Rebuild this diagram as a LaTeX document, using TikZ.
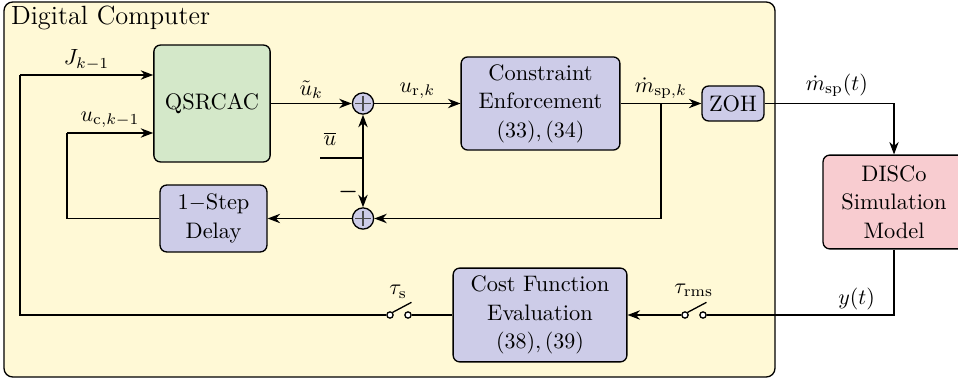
\documentclass[tikz,border=0pt]{standalone}
\usepackage{amsmath,amssymb,amsfonts}
\usepackage{xcolor}
\usepackage{tikz}
\usetikzlibrary{arrows.meta,positioning,calc}

\definecolor{compbg}{RGB}{255,249,214}
\definecolor{ctrlgreen}{RGB}{212,232,201}
\definecolor{blockpurple}{RGB}{205,204,232}
\definecolor{plantpink}{RGB}{248,204,208}

\begin{document}
\begin{tikzpicture}[
  >=Stealth,
  block/.style={
    draw,
    rounded corners=3pt,
    align=center,
    inner sep=2pt,
    line width=0.6pt,
    font=\fontsize{10.2}{13}\selectfont,
    fill=blockpurple
  },
  ctrl/.style={block, fill=ctrlgreen},
  plant/.style={block, fill=plantpink},
  sumnode/.style={
    circle, draw, fill=blockpurple, line width=0.6pt,
    minimum size=0.34cm, inner sep=0pt,
    path picture={
      \draw[gray!60!black, shorten <=1.3pt, shorten >=1.3pt]
        (path picture bounding box.north) -- (path picture bounding box.south);
      \draw[gray!60!black, shorten <=1.3pt, shorten >=1.3pt]
        (path picture bounding box.west) -- (path picture bounding box.east);
    }
  },
  swpin/.style={circle, draw, fill=white, minimum size=0.1cm, inner sep=0pt, semithick},
  arrow/.style={->, semithick},
  wire/.style={semithick},
  sig/.style={inner sep=2pt}
]
  \useasboundingbox (0,0) rectangle (15.328,-6.112);

  % digital computer frame
  \draw[fill=compbg, rounded corners=4pt, line width=0.6pt]
    (0.064,-0.032) rectangle (12.4,-6.032);
  \node[anchor=west, inner sep=0pt, font=\large] (title) at (0.17,-0.29) {Digital Computer};

  % blocks
  \node[ctrl, minimum width=1.86cm, minimum height=1.87cm] (qsr) at (3.392,-1.656) {QSRCAC};
  \node[sumnode] (sum1) at (5.808,-1.656) {};
  \node[block, minimum width=2.54cm, minimum height=1.49cm] (cons) at (8.648,-1.656) {%
    Constraint\\Enforcement\\$(33),(34)$};
  \node[block, minimum width=0.99cm, minimum height=0.56cm] (zoh) at (11.728,-1.656) {ZOH};
  \node[plant, minimum width=2.27cm, minimum height=1.5cm] (disco) at (14.304,-3.232) {%
    DISCo\\Simulation\\Model};
  \node[block, minimum width=1.71cm, minimum height=1.07cm] (delay) at (3.416,-3.496) {%
    1$-$Step\\Delay};
  \node[sumnode] (sum2) at (5.808,-3.496) {};
  \node[block, minimum width=2.78cm, minimum height=1.5cm] (cost) at (8.64,-5.04) {%
    Cost Function\\Evaluation\\$(38),(39)$};

  % sampling switches
  \node[swpin] (tsa) at (6.24,-5.04) {};
  \node[swpin] (tsb) at (6.528,-5.04) {};
  \draw[wire] (tsa.north east) -- ++(28:0.34) coordinate (tsend);
  \node[sig] (tslbl) at (6.37,-4.67) {$\tau_{\mathrm{s}}$};
  \node[swpin] (tra) at (10.96,-5.04) {};
  \node[swpin] (trb) at (11.248,-5.04) {};
  \draw[wire] (tra.north east) -- ++(28:0.34) coordinate (trend);
  \node[sig] (trlbl) at (11.1,-4.64) {$\tau_{\mathrm{rms}}$};

  % corner points
  \coordinate (jc) at (0.32,-1.2);
  \coordinate (uc) at (1.072,-2.128);
  \coordinate (br) at (10.576,-1.656);
  \coordinate (ubar) at (5.12,-2.528);
  \coordinate (uj) at (5.808,-2.528);

  % forward path
  \draw[arrow] (qsr.east) -- node[sig, above] {$\tilde{u}_k$} (sum1.west);
  \draw[arrow] (sum1.east) -- node[sig, above] {$u_{\mathrm{r},k}$} (cons.west);
  \draw[arrow] (cons.east) -- node[sig, above] {$\dot{m}_{\mathrm{sp},k}$} (zoh.west);
  \draw[arrow] (zoh.east) -| (disco.north);
  \node[sig] (mdot) at (13.39,-1.36) {$\dot{m}_{\mathrm{sp}}(t)$};

  % offset input
  \draw[thick] (ubar) -- (uj);
  \node[sig] (ubarlbl) at (5.28,-2.22) {$\overline{u}$};
  \draw[arrow] (uj) -- (sum1.south);
  \draw[arrow] (uj) -- (sum2.north);
  \node[sig] (minus) at (5.57,-3.07) {$\boldsymbol{-}$};

  % delay loop
  \draw[arrow] (br) |- (sum2.east);
  \draw[arrow] (sum2.west) -- (delay.east);
  \draw[wire] (delay.west) -| (uc);
  \draw[arrow] (uc) -- node[sig, above] {$u_{\mathrm{c},k-1}$} (uc -| qsr.west);

  % cost loop
  \draw[wire] (disco.south) |- node[sig, pos=0.6, above] {$y(t)$} (trb.east);
  \draw[arrow] (tra.west) -- (cost.east);
  \draw[wire] (cost.west) -- (tsb.east);
  \draw[wire] (tsa.west) -| (jc);
  \draw[arrow] (jc) -- node[sig, above] {$J_{k-1}$} (jc -| qsr.west);
\end{tikzpicture}
\end{document}
